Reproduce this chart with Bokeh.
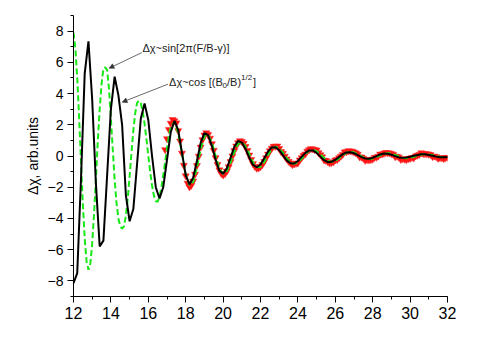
import numpy as np
from bokeh.plotting import figure
from bokeh.models import Range1d, SingleIntervalTicker, Arrow, NormalHead
from bokeh.core.properties import value
from bokeh.embed import file_html
from bokeh.resources import INLINE

# ---- data ----
# calculated curve  dchi ~ cos[(B0/B)^1/2]  (black, sampled every 0.2 T)
black_b = np.round(np.arange(12.0, 32.0001, 0.2), 2)
black_chi = [
    -8.15, -7.5, -1.5, 5.3, 7.35, 3.6, -1.8, -5.79, -5.42, -1.2,
    3.0, 5.08, 3.9, 2.0, -2.5, -4.18, -3.4, -0.5, 2.4, 3.36,
    2.3, 0.0, -2.0, -2.72, -1.99, -0.24, 1.52, 2.25, 1.65, 0.22,
    -1.22, -1.82, -1.39, -0.32, 0.84, 1.47, 1.33, 0.65, -0.24, -0.95,
    -1.13, -0.79, -0.10, 0.59, 0.96, 0.87, 0.45, -0.11, -0.57, -0.72,
    -0.54, -0.15, 0.28, 0.55, 0.56, 0.37, 0.05, -0.28, -0.47, -0.48,
    -0.32, -0.06, 0.20, 0.36, 0.36, 0.20, -0.04, -0.27, -0.40, -0.37,
    -0.24, -0.06, 0.12, 0.23, 0.24, 0.18, 0.06, -0.07, -0.16, -0.18,
    -0.12, -0.01, 0.10, 0.16, 0.14, 0.08, -0.01, -0.09, -0.12, -0.10,
    -0.05, 0.01, 0.07, 0.11, 0.11, 0.07, 0.02, -0.04, -0.08, -0.08,
    -0.06,
]

# calculated curve  dchi ~ sin[2pi(F/B - gamma)]  (green dashed)
green_b = np.round(np.concatenate([np.arange(12.0, 17.2001, 0.1),
                                   np.arange(17.4, 32.0001, 0.2)]), 2)
green_chi = [
    7.91, 6.91, 5.01, 2.47, -0.33, -3.07, -5.3, -6.77, -7.29, -6.9,
    -5.6, -3.7, -1.4, 1.0, 3.0, 4.6, 5.6, 5.68, 5.5, 4.3,
    2.4, 0.4, -1.5, -3.0, -4.0, -4.5, -4.65, -4.51, -3.85, -2.73,
    -1.32, 0.21, 1.64, 2.75, 3.4, 3.54, 3.37, 2.86, 2.07, 1.09,
    0.03, -1.02, -1.89, -2.55, -2.9, -2.93, -2.6, -2.02, -1.25, -0.37,
    0.51, 1.28, 1.86,
    2.17, 1.47, 0.15, -1.17, -1.87, -1.66, -0.75, 0.44, 1.27, 1.37,
    0.86, 0.0, -0.79, -1.15, -0.96, -0.41, 0.27, 0.77, 0.89, 0.62,
    0.12, -0.41, -0.72, -0.69, -0.39, 0.06, 0.45, 0.6, 0.49, 0.21,
    -0.14, -0.41, -0.5, -0.4, -0.16, 0.12, 0.33, 0.4, 0.31, 0.11,
    -0.13, -0.32, -0.38, -0.31, -0.14, 0.06, 0.22, 0.28, 0.23, 0.11,
    -0.03, -0.15, -0.2, -0.16, -0.07, 0.05, 0.14, 0.18, 0.15, 0.07,
    -0.03, -0.11, -0.14, -0.12, -0.05, 0.03, 0.1, 0.12, 0.1, 0.05,
    -0.01, -0.06, -0.08, -0.06,
]

# measured data (red down-triangles)
red_b = np.round(np.arange(16.9, 32.0001, 0.1), 2)
red_chi = [
    0.4, 1.1, 1.7, 2.1, 2.33, 2.25, 2.12, 1.62, 0.96, 0.18,
    -0.6, -1.27, -1.74, -1.98, -1.88, -1.61, -1.17, -0.61, -0.01, 0.57,
    1.04, 1.34, 1.48, 1.37, 1.14, 0.79, 0.36, -0.11, -0.54, -0.89,
    -1.12, -1.22, -1.14, -0.97, -0.69, -0.36, 0.0, 0.34, 0.64, 0.85,
    0.97, 0.93, 0.81, 0.61, 0.35, 0.06, -0.23, -0.49, -0.67, -0.79,
    -0.77, -0.69, -0.55, -0.35, -0.12, 0.12, 0.33, 0.49, 0.62, 0.62,
    0.64, 0.48, 0.28, 0.17, -0.01, -0.19, -0.34, -0.45, -0.55, -0.51,
    -0.47, -0.45, -0.26, -0.11, 0.04, 0.13, 0.31, 0.4, 0.47, 0.45,
    0.4, 0.38, 0.21, 0.08, -0.05, -0.26, -0.29, -0.37, -0.45, -0.42,
    -0.38, -0.26, -0.23, -0.12, -0.01, 0.1, 0.26, 0.27, 0.33, 0.32,
    0.3, 0.25, 0.19, 0.11, -0.06, -0.07, -0.15, -0.28, -0.24, -0.25,
    -0.23, -0.2, -0.09, -0.08, -0.01, 0.12, 0.12, 0.17, 0.22, 0.2,
    0.19, 0.15, 0.1, -0.04, -0.02, -0.08, -0.22, -0.18, -0.2, -0.24,
    -0.18, -0.15, -0.1, -0.12, 0.0, 0.05, 0.1, 0.2, 0.15, 0.15,
    0.14, 0.11, 0.08, -0.04, -0.01, -0.05, -0.15, -0.11, -0.12, -0.17,
    -0.11, -0.09,
]

x_ticks_interval = 2
y_ticks_interval = 2

FONT = "Liberation Sans"

p = figure(width=471, height=333, output_backend="svg", toolbar_location=None,
           x_range=Range1d(12, 32), y_range=Range1d(-9, 9),
           min_border_left=73, min_border_right=24,
           min_border_top=15, min_border_bottom=37)
p.outline_line_color = None
p.grid.visible = False
p.background_fill_color = "white"
p.border_fill_color = "white"

p.xaxis.ticker = SingleIntervalTicker(interval=x_ticks_interval, num_minor_ticks=2)
p.yaxis.ticker = SingleIntervalTicker(interval=y_ticks_interval, num_minor_ticks=2)
for ax in (p.xaxis, p.yaxis):
    ax.axis_line_color = "black"
    ax.axis_line_width = 1
    ax.major_tick_line_color = "black"
    ax.minor_tick_line_color = "black"
    ax.major_tick_in = 0
    ax.major_tick_out = 6
    ax.minor_tick_in = 0
    ax.minor_tick_out = 3
    ax.major_label_text_font = FONT
    ax.major_label_text_color = "black"
p.xaxis.major_label_text_font_size = "16px"
p.yaxis.major_label_text_font_size = "14px"
p.xaxis.major_label_standoff = 4
p.yaxis.major_label_standoff = 4
p.yaxis.axis_label = "Δχ, arb.units"
p.yaxis.axis_label_text_font = FONT
p.yaxis.axis_label_text_font_size = "14px"
p.yaxis.axis_label_text_font_style = "normal"
p.yaxis.axis_label_text_color = "black"
p.yaxis.axis_label_standoff = 4

# glyphs
p.scatter(red_b, red_chi, marker="inverted_triangle", size=7,
          fill_color="#ff1010", line_color="#ff2020", line_width=0.5)
p.line(green_b, green_chi, line_color="#18e818", line_width=2, line_dash="6 3")
p.line(black_b, black_chi, line_color="black", line_width=2)

# annotations
p.text(x=[15.69], y=[6.95], text=["Δχ~sin[2π(F/B-γ)]"], text_font=value(FONT),
       text_font_size="11px", text_baseline="middle", text_align="left",
       text_color="#222222")

ax2, ay2 = 17.11, 4.76
pieces = [("Δχ~cos [(B", 0, 0, "11px"), ("0", 53.5, 3.5, "8px"),
          ("/B)", 58, 0, "11px"), ("1/2", 72, -4, "8px"), ("]", 84, 0, "11px")]
for txt, dx, dy, fs in pieces:
    p.text(x=[ax2], y=[ay2], text=[txt], x_offset=dx, y_offset=dy,
           text_font=value(FONT), text_font_size=fs, text_baseline="middle",
           text_align="left", text_color="#222222")

p.add_layout(Arrow(end=NormalHead(size=5, fill_color="#333333", line_color="#333333",
                                  line_width=0.5),
                   x_start=15.65, y_start=6.62, x_end=13.9, y_end=5.62,
                   line_color="#444444", line_width=0.8))
p.add_layout(Arrow(end=NormalHead(size=5, fill_color="#333333", line_color="#333333",
                                  line_width=0.5),
                   x_start=17.05, y_start=4.6, x_end=14.6, y_end=3.45,
                   line_color="#444444", line_width=0.8))

open("out.html", "w").write(file_html(p, INLINE))
